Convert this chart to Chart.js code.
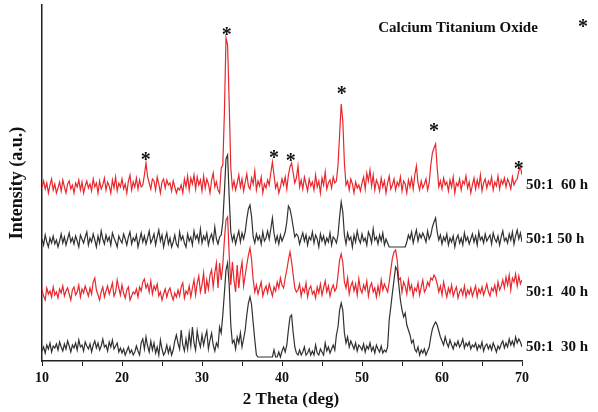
<!DOCTYPE html>
<html>
<head>
<meta charset="utf-8">
<script src="https://cdn.jsdelivr.net/npm/chart.js@4.4.1/dist/chart.umd.min.js"></script>
<style>
  html, body { margin: 0; padding: 0; background: #fff; }
  #wrap { width: 598px; height: 412px; }
</style>
</head>
<body>
<div id="wrap"><canvas id="xrdChart"></canvas></div>
<script>
// scan grid: 10 to 70 deg, 0.2 deg step
const thetaStart = 10;
const thetaStep = 0.2;

const sampleLabels = ["50:1  30 h", "50:1  40 h", "50:1 50 h", "50:1  60 h"];
const offsets = [6, 61, 114, 168];
const lineColors = ["#303030", "#e8262c", "#303030", "#e8262c"];

// intensities (a.u.), one row = 2 deg
const i30h = [
  4,8,2,10,6,12,3,9,7,11,
  5,13,8,4,11,6,14,9,3,10,
  7,12,5,15,8,10,4,13,9,6,
  11,3,10,14,7,12,5,9,16,8,
  10,4,13,8,15,6,9,12,3,7,
  2,6,0,4,8,2,5,0,3,9,
  4,0,12,16,6,18,9,3,14,5,
  12,2,8,0,15,6,0,3,10,2,
  8,0,5,14,20,12,6,25,10,4,
  16,6,22,9,28,12,5,24,14,8,
  20,10,18,24,6,15,22,10,4,12,
  8,28,22,40,62,85,92,70,30,12,
  15,6,18,12,22,8,16,25,40,52,
  58,50,32,15,0,-2,-2,-2,-2,-2,
  -2,-2,-2,-2,-2,5,-2,-2,3,-2,
  4,8,3,10,25,38,40,22,8,2,
  0,5,0,3,8,0,2,6,0,4,
  0,10,2,0,6,3,0,12,4,8,
  2,6,10,5,20,28,45,52,45,22,
  12,18,8,14,10,6,12,4,10,8,
  5,11,3,9,6,12,4,8,2,10,
  6,3,9,2,5,3,8,35,48,62,
  75,88,85,70,55,45,38,42,30,25,
  20,12,15,6,3,8,0,5,2,6,
  0,4,8,18,26,30,33,30,24,18,
  14,10,18,12,8,15,10,6,12,9,
  14,8,11,16,7,12,9,13,6,10,
  8,12,5,10,7,13,4,9,11,6,
  10,5,12,8,3,9,6,11,14,7,
  12,8,16,10,14,9,18,12,16,13,
  8
];

const i40h = [
  10,4,0,12,6,9,3,13,5,8,
  2,11,7,14,4,9,12,6,0,10,
  13,5,8,15,3,11,7,14,9,4,
  12,6,18,22,10,5,0,8,13,3,
  9,14,6,11,17,4,8,20,12,5,
  15,7,2,10,13,0,4,8,6,11,
  3,13,9,18,21,12,16,8,19,6,
  14,10,16,4,8,0,6,11,3,9,
  12,5,0,7,3,10,4,13,17,2,
  9,6,14,3,12,20,5,17,24,8,
  15,27,6,20,11,25,30,13,27,37,
  12,37,20,35,60,80,83,45,15,38,
  20,8,35,12,28,38,14,25,35,45,
  52,40,20,8,15,6,12,18,4,10,
  14,7,16,10,4,13,9,18,12,22,
  15,12,22,30,40,48,38,25,12,8,
  10,16,4,12,8,17,3,11,14,6,
  9,2,13,7,16,5,12,19,8,14,
  4,11,15,9,12,25,40,46,38,18,
  12,22,6,14,18,9,16,5,21,11,
  7,15,10,19,4,13,17,8,12,3,
  14,6,20,10,16,12,8,18,30,42,
  48,50,40,20,22,8,18,14,6,20,
  10,15,4,12,9,17,5,13,20,8,
  11,18,14,22,20,25,22,16,8,14,
  5,18,10,3,12,7,15,4,9,13,
  2,8,11,5,14,3,10,6,12,4,
  9,14,3,11,7,13,5,10,16,8,
  4,12,9,15,6,18,10,14,20,12,
  23,15,25,10,22,18,26,14,24,16,
  20
];

const i50h = [
  8,2,12,5,0,9,4,11,3,7,
  0,6,13,4,10,2,8,14,5,9,
  3,11,6,0,12,8,4,10,15,2,
  9,5,13,7,0,11,4,16,8,3,
  12,6,10,2,14,9,5,0,11,7,
  4,13,8,2,10,15,3,9,6,12,
  0,7,14,5,11,3,9,16,4,8,
  13,2,10,17,6,12,0,8,14,3,
  9,0,5,12,3,0,15,7,11,4,
  0,13,6,10,2,16,8,12,5,18,
  4,11,7,14,2,9,13,5,20,8,
  3,10,12,25,55,88,92,50,15,6,
  12,3,10,16,5,14,8,15,28,38,
  42,30,10,4,13,7,11,3,15,6,
  9,16,8,18,29,14,5,11,3,12,
  6,10,15,25,41,38,30,20,10,13,
  11,3,9,14,6,12,2,10,7,15,
  4,12,8,0,13,6,11,3,9,5,
  14,2,10,8,4,12,30,45,35,12,
  3,14,7,10,0,12,5,16,8,4,
  13,6,9,2,15,11,4,18,7,10,
  3,12,6,14,2,8,4,0,0,0,
  0,0,0,0,0,0,0,0,5,12,
  8,15,4,11,17,6,13,9,14,10,
  5,16,8,12,20,25,29,15,7,12,
  3,10,6,13,2,9,5,11,0,8,
  12,4,9,2,14,6,10,3,8,13,
  5,11,2,15,7,10,4,13,6,9,
  12,3,14,8,5,11,2,10,16,6,
  9,4,13,7,15,3,11,17,8,14,
  5
];

const i60h = [
  6,12,4,10,0,8,14,3,9,0,
  5,11,2,13,6,0,9,12,4,8,
  0,10,6,13,3,11,0,7,12,5,
  9,2,14,6,10,0,12,4,8,15,
  3,11,7,0,13,5,16,2,10,6,
  14,4,9,0,12,18,3,11,6,15,
  4,13,6,8,18,30,16,10,4,14,
  12,3,16,9,0,11,14,5,13,8,
  10,2,12,6,0,5,3,8,0,14,
  6,17,3,15,9,18,4,16,8,13,
  2,17,5,14,9,0,13,20,6,11,
  3,0,25,28,80,155,148,90,25,5,
  12,3,10,18,6,14,2,11,19,7,
  4,15,9,22,3,12,7,16,0,9,
  5,13,8,20,31,18,5,10,0,6,
  14,8,16,4,18,26,30,20,10,15,
  27,6,13,4,16,9,2,14,7,11,
  3,18,6,12,0,15,8,21,4,10,
  13,5,16,10,12,28,58,89,72,30,
  8,12,3,14,9,0,11,5,8,2,
  10,16,4,20,12,23,7,18,3,13,
  9,2,15,6,12,0,10,17,4,8,
  14,3,11,7,16,2,12,9,0,13,
  6,15,4,18,27,10,3,12,5,9,
  14,3,10,28,40,45,49,25,6,12,
  4,15,8,11,2,13,6,16,0,10,
  7,14,3,12,9,17,5,11,0,8,
  15,4,13,6,18,2,10,14,5,12,
  8,16,3,11,7,17,4,13,9,15,
  6,14,10,4,16,8,12,14,22,26,
  18
];

const intensities = [i30h, i40h, i50h, i60h];

// calcium titanium oxide reflections marked on the 60 h pattern
const starTheta = [22.96, 33.1, 39.0, 41.1, 47.46, 59.0, 69.6];
const starLevel = [204, 329, 206, 203, 270, 233, 195];

const serif = "'Liberation Serif', 'Times New Roman', serif";

const datasets = intensities.map((arr, k) => ({
  label: sampleLabels[k],
  data: arr.map((v, i) => ({ x: thetaStart + i * thetaStep, y: v + offsets[k] })),
  borderColor: lineColors[k],
  borderWidth: 1.2,
  pointRadius: 0,
  tension: 0,
  fill: false
}));

const annotations = {
  id: "annotations",
  afterDatasetsDraw(chart) {
    const ctx = chart.ctx;
    const xs = chart.scales.x, ys = chart.scales.y;
    ctx.save();
    ctx.fillStyle = "#111";

    // asterisks over peaks
    ctx.font = "bold 20px " + serif;
    ctx.textAlign = "center";
    ctx.textBaseline = "middle";
    starTheta.forEach((t, i) => {
      ctx.fillText("*", xs.getPixelForValue(t), ys.getPixelForValue(starLevel[i]) + 4);
    });

    // sample names at right end of each trace
    ctx.font = "bold 15px " + serif;
    ctx.textAlign = "left";
    sampleLabels.forEach((s, k) => {
      ctx.fillText(s, xs.right + 4, ys.getPixelForValue(offsets[k] + 8));
    });

    // phase key
    ctx.font = "bold 15px " + serif;
    ctx.textAlign = "center";
    ctx.fillText("Calcium Titanium Oxide", 458, 28);
    ctx.font = "bold 20px " + serif;
    ctx.fillText("*", 583, 28);

    // x axis title
    ctx.font = "bold 17px " + serif;
    ctx.fillText("2 Theta (deg)", 291, 400);
    ctx.restore();
  }
};

new Chart(document.getElementById("xrdChart"), {
  type: "line",
  data: { datasets: datasets },
  options: {
    responsive: true,
    maintainAspectRatio: false,
    animation: false,
    layout: { padding: { top: 5, right: 76, bottom: 0, left: 0 } },
    plugins: { legend: { display: false }, tooltip: { enabled: false } },
    scales: {
      x: {
        type: "linear",
        min: 10,
        max: 70,
        afterFit: s => { s.height = 51; },
        border: { color: "#222", width: 1.5 },
        grid: { drawOnChartArea: false, tickLength: 5, color: "#222" },
        ticks: {
          stepSize: 5,
          autoSkip: false,
          maxRotation: 0,
          padding: 4,
          color: "#111",
          font: { family: serif, weight: "bold", size: 14 },
          callback: v => (v % 10 === 0 ? v : "")
        }
      },
      y: {
        min: 0,
        max: 356,
        afterFit: s => { s.width = 42; },
        border: { color: "#222", width: 1.5 },
        grid: { display: false },
        ticks: { display: false },
        title: {
          display: true,
          text: "Intensity (a.u.)",
          color: "#111",
          font: { family: serif, weight: "bold", size: 18 },
          padding: { top: 7, bottom: 0 }
        }
      }
    }
  },
  plugins: [annotations]
});
</script>
</body>
</html>
